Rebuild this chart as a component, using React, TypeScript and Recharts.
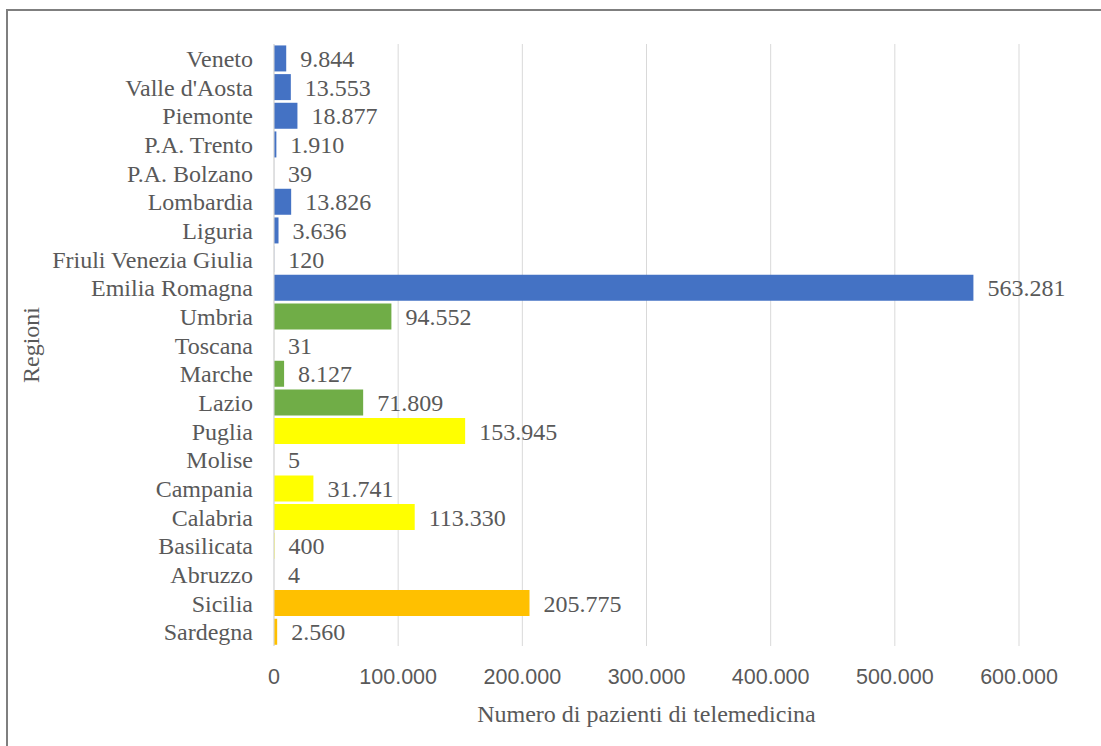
import React from 'react';
import { BarChart, Bar, XAxis, YAxis, CartesianGrid, Cell, LabelList, Label } from 'recharts';

const regions = [
  'Veneto', "Valle d'Aosta", 'Piemonte', 'P.A. Trento', 'P.A. Bolzano', 'Lombardia', 'Liguria',
  'Friuli Venezia Giulia', 'Emilia Romagna', 'Umbria', 'Toscana', 'Marche', 'Lazio', 'Puglia',
  'Molise', 'Campania', 'Calabria', 'Basilicata', 'Abruzzo', 'Sicilia', 'Sardegna',
];
const patients = [
  9844, 13553, 18877, 1910, 39, 13826, 3636, 120, 563281, 94552, 31, 8127, 71809, 153945,
  5, 31741, 113330, 400, 4, 205775, 2560,
];
const areas = [
  'nord', 'nord', 'nord', 'nord', 'nord', 'nord', 'nord', 'nord', 'nord',
  'centro', 'centro', 'centro', 'centro',
  'sud', 'sud', 'sud', 'sud', 'sud', 'sud',
  'isole', 'isole',
];
const areaColors: Record<string, string> = {
  nord: '#4472C4',
  centro: '#70AD47',
  sud: '#FFFF00',
  isole: '#FFC000',
};
const xTicks = [0, 100000, 200000, 300000, 400000, 500000, 600000];

const data = regions.map((r, i) => ({ region: r, value: patients[i], area: areas[i] }));

const fmt = (v: number) => String(v).replace(/\B(?=(\d{3})+(?!\d))/g, '.');

const TEXT = '#595959';
const SERIF = '"Liberation Serif", "Times New Roman", serif';
const SANS = '"Liberation Sans", Arial, sans-serif';

export default function App() {
  return (
    <div style={{ position: 'absolute', left: 0, top: 0, width: 1101, height: 746, overflow: 'hidden', background: '#fff' }}>
      <div style={{ position: 'absolute', left: 6, top: 9, width: 1200, height: 800, borderLeft: '2px solid #7F7F7F', borderTop: '2px solid #7F7F7F' }} />
      <div style={{ position: 'absolute', left: 0, top: 0 }}>
        <BarChart
          width={1101}
          height={746}
          data={data}
          layout="vertical"
          margin={{ top: 44, right: 82, bottom: 70, left: 0 }}
          barCategoryGap="5%"
        >
          <CartesianGrid horizontal={false} vertical stroke="#D9D9D9" strokeWidth={1} />
          <XAxis
            type="number"
            domain={[0, 600000]}
            ticks={xTicks}
            tickFormatter={fmt}
            axisLine={false}
            tickLine={false}
            tickSize={0}
            tickMargin={23}
            height={30}
            tick={{ fill: TEXT, fontSize: 21.5, fontFamily: SANS }}
            interval={0}
          >
            <Label
              content={(p: any) => {
                const vb = p.viewBox || {};
                return (
                  <text x={vb.x + vb.width / 2} y={722} textAnchor="middle" fill={TEXT} fontSize={24} fontFamily={SERIF}>
                    Numero di pazienti di telemedicina
                  </text>
                );
              }}
            />
          </XAxis>
          <YAxis
            type="category"
            dataKey="region"
            width={274}
            axisLine={{ stroke: '#D9D9D9' }}
            tickLine={false}
            tickSize={0}
            tickMargin={21}
            interval={0}
            tick={{ fill: TEXT, fontSize: 24, fontFamily: SERIF }}
          >
            <Label
              content={(p: any) => {
                const vb = p.viewBox || {};
                const cy = vb.y + vb.height / 2;
                return (
                  <text x={31} y={cy} transform={`rotate(-90 31 ${cy})`} textAnchor="middle" dominantBaseline="central" fill={TEXT} fontSize={24} fontFamily={SERIF}>
                    Regioni
                  </text>
                );
              }}
            />
          </YAxis>
          <Bar dataKey="value" isAnimationActive={false}>
            {data.map((d, i) => (
              <Cell key={i} fill={areaColors[d.area]} />
            ))}
            <LabelList
              dataKey="value"
              position="right"
              offset={14}
              formatter={(v: any) => fmt(Number(v))}
              style={{ fill: TEXT, fontSize: 24, fontFamily: SERIF }}
            />
          </Bar>
        </BarChart>
      </div>
    </div>
  );
}
